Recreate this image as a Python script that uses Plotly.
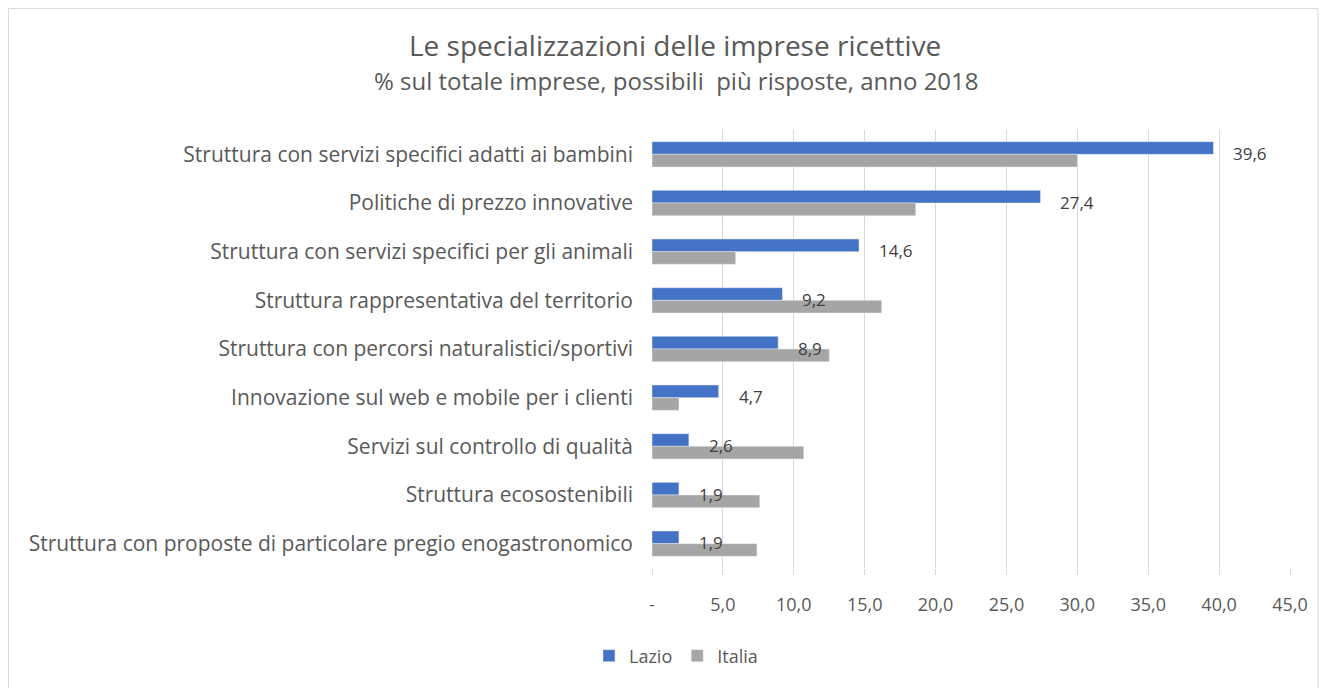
import plotly.graph_objects as go

# categorie (dall'alto verso il basso)
categorie = [
    "Struttura con servizi specifici adatti ai bambini",
    "Politiche di prezzo innovative",
    "Struttura con servizi specifici per gli animali",
    "Struttura rappresentativa del territorio",
    "Struttura con percorsi naturalistici/sportivi",
    "Innovazione sul web e mobile per i clienti",
    "Servizi sul controllo di qualità",
    "Struttura ecosostenibili",
    "Struttura con proposte di particolare pregio enogastronomico",
]
lazio = [39.6, 27.4, 14.6, 9.2, 8.9, 4.7, 2.6, 1.9, 1.9]
italia = [30.0, 18.6, 5.9, 16.2, 12.5, 1.9, 10.7, 7.6, 7.4]

tick_vals = [0, 5, 10, 15, 20, 25, 30, 35, 40, 45]
tick_text = ["-", "5,0", "10,0", "15,0", "20,0", "25,0", "30,0", "35,0", "40,0", "45,0"]

GRIGIO_TESTO = "#595959"
FONT = "Open Sans"

# la pagina ha 8px di margine: figura leggermente più piccola della finestra
W, H = 1320, 680
L, R, T, B = 644, 38, 122, 120
pw, ph = W - L - R, H - T - B


def px_x(x):
    # x in pixel della finestra -> coordinate paper
    return (x - 8 - L) / pw


def px_y(y):
    return (H - B - (y - 8)) / ph


fig = go.Figure()
fig.add_trace(go.Bar(y=categorie, x=lazio, name="Lazio", orientation="h",
                     marker_color="#4472C4"))
fig.add_trace(go.Bar(y=categorie, x=italia, name="Italia", orientation="h",
                     marker_color="#A5A5A5"))

# etichette dati solo per il Lazio
for cat, val in zip(categorie, lazio):
    fig.add_annotation(x=val, y=cat, xref="x", yref="y", text=f"{val:.1f}".replace(".", ","),
                       showarrow=False, xanchor="left", xshift=18, yshift=1,
                       font=dict(size=17, color="#404040", family=FONT))

# titolo e sottotitolo
fig.add_annotation(x=px_x(675), y=px_y(45), xref="paper", yref="paper",
                   xanchor="center", yanchor="middle",
                   text="Le specializzazioni delle imprese ricettive", showarrow=False,
                   font=dict(size=28, color=GRIGIO_TESTO, family=FONT))
fig.add_annotation(x=px_x(676), y=px_y(80), xref="paper", yref="paper",
                   xanchor="center", yanchor="middle",
                   text="% sul totale imprese, possibili  più risposte, anno 2018", showarrow=False,
                   font=dict(size=24, color=GRIGIO_TESTO, family=FONT))

# cornice del grafico
fig.add_shape(type="rect", xref="paper", yref="paper",
              x0=px_x(8.5), x1=px_x(1318), y0=px_y(8.5), y1=px_y(700),
              line=dict(color="#D9D9D9", width=1), layer="below")

fig.update_layout(
    width=W, height=H,
    margin=dict(l=L, r=R, t=T, b=B),
    plot_bgcolor="white", paper_bgcolor="white",
    barmode="group", bargap=0.48, bargroupgap=0,
    separators=",.",
    font=dict(family=FONT, size=20, color=GRIGIO_TESTO),
    showlegend=True,
    legend=dict(orientation="h", x=px_x(676), y=px_y(656), xanchor="center", yanchor="middle",
                font=dict(size=18, color=GRIGIO_TESTO), itemwidth=30, traceorder="normal"),
    xaxis=dict(range=[0, 45], tickvals=tick_vals, ticktext=tick_text,
               showgrid=True, gridcolor="#D9D9D9", gridwidth=1, zeroline=False,
               ticks="outside", ticklen=6, tickcolor="#D9D9D9", ticklabelstandoff=14,
               tickfont=dict(size=18, color=GRIGIO_TESTO), showline=False),
    yaxis=dict(autorange="reversed", showgrid=False, zeroline=False, ticks="",
               ticklabelstandoff=18, tickfont=dict(size=21, color=GRIGIO_TESTO)),
)

fig.write_html("out.html")
